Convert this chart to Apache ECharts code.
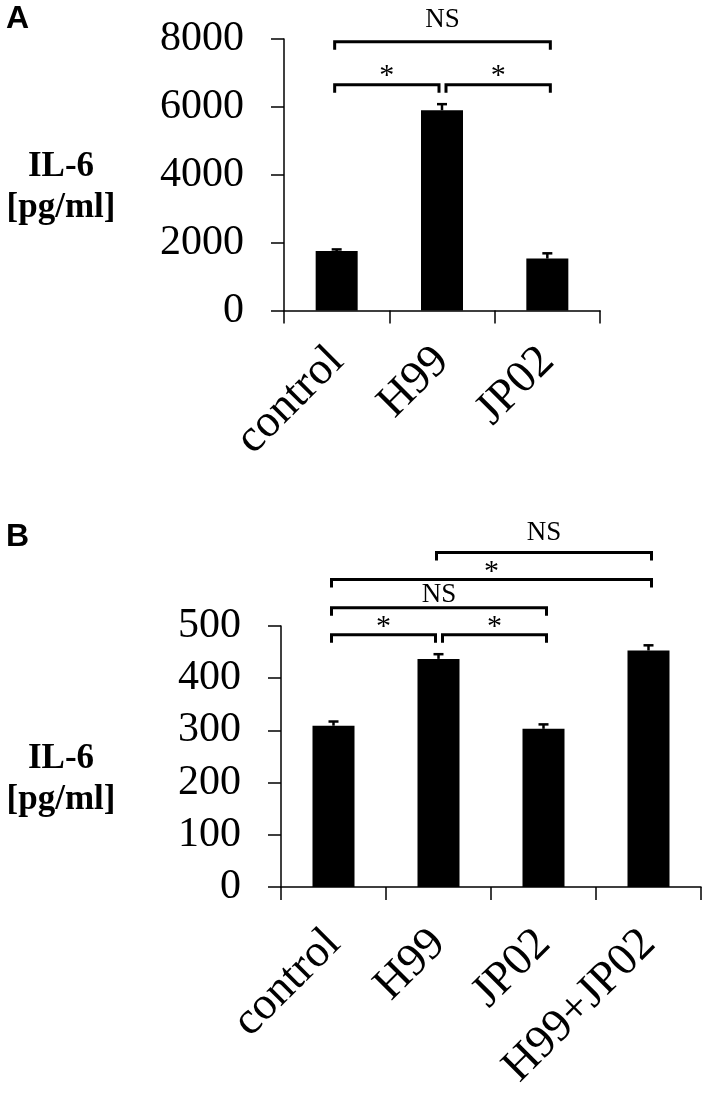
<!DOCTYPE html>
<html>
<head>
<meta charset="utf-8">
<script src="https://cdn.jsdelivr.net/npm/echarts@6/dist/echarts.min.js"></script>
<style>
html,body{margin:0;padding:0;background:#fff;}
#chart{width:708px;height:1093px;}
</style>
</head>
<body>
<div id="chart"></div>
<script>
// ---------- data ----------
const categoriesA = ['control', 'H99', 'JP02'];
const valuesA = [1750, 5900, 1530];
const errorsA = [50, 180, 155];
const yTicksA = { min: 0, max: 8000, interval: 2000 };
// [fromIndex, toIndex, level, label]
const bracketsA = [
  [0, 2, 7920, 'NS'],
  [0, 1, 6650, '*'],
  [1, 2, 6650, '*']
];

const categoriesB = ['control', 'H99', 'JP02', 'H99+JP02'];
const valuesB = [309, 437, 303, 453];
const errorsB = [8, 9, 8.5, 10];
const yTicksB = { min: 0, max: 500, interval: 100 };
const bracketsB = [
  [1, 3, 641, 'NS'],
  [0, 3, 589, '*'],
  [0, 2, 535, 'NS'],
  [0, 1, 483, '*'],
  [1, 2, 483, '*']
];

const yAxisName = 'IL-6\n[pg/ml]';

// ---------- styles (pixel gaps between bracket line and its label) ----------
const labelGapA = [22, 9, 9];
const labelGapB = [19, 7, 13, 8, 8];
const SERIF = "'Liberation Serif','Times New Roman',serif";
const BLACK = '#000';

function makeErrorRender() {
  return function (params, api) {
    const base = api.coord([api.value(0), api.value(1)]);
    const top = api.coord([api.value(0), api.value(2)]);
    const capHalf = 5;
    return {
      type: 'group',
      children: [
        { type: 'line', shape: { x1: base[0], y1: base[1], x2: top[0], y2: top[1] },
          style: { stroke: BLACK, lineWidth: 2.5 } },
        { type: 'line', shape: { x1: top[0] - capHalf, y1: top[1], x2: top[0] + capHalf, y2: top[1] },
          style: { stroke: BLACK, lineWidth: 2.5 } }
      ]
    };
  };
}

function makeBracketRender(brackets, gaps) {
  return function (params, api) {
    const b = brackets[params.dataIndex];
    const lvl = b[2];
    const leftShared = brackets.some(o => o !== b && o[2] === lvl && o[1] === b[0]);
    const rightShared = brackets.some(o => o !== b && o[2] === lvl && o[0] === b[1]);
    const p1 = api.coord([b[0], lvl]);
    const p2 = api.coord([b[1], lvl]);
    const x1 = p1[0] + (leftShared ? 4 : -2);
    const x2 = p2[0] + (rightShared ? -3 : 3);
    const y = p1[1];
    const drop = 8;
    const isStar = b[3] === '*';
    return {
      type: 'group',
      children: [
        { type: 'polyline',
          shape: { points: [[x1, y + drop], [x1, y], [x2, y], [x2, y + drop]] },
          style: { stroke: BLACK, lineWidth: 3, fill: null } },
        { type: 'text',
          style: { text: b[3], x: (x1 + x2) / 2, y: y - gaps[params.dataIndex],
                   align: 'center', verticalAlign: 'middle',
                   font: (isStar ? '30px ' : '27px ') + SERIF, fill: BLACK } }
      ]
    };
  };
}

const axisLineStyle = { show: true, lineStyle: { color: BLACK, width: 1.5 } };
const axisTickStyle = { show: true, length: 13, lineStyle: { color: BLACK, width: 1.5 } };

function xAxisCfg(gridIndex, cats, margin) {
  return {
    type: 'category', gridIndex: gridIndex, data: cats,
    boundaryGap: true,
    axisLine: axisLineStyle,
    axisTick: axisTickStyle,
    axisLabel: { rotate: 45, margin: margin, fontFamily: SERIF, fontSize: 46, color: BLACK, interval: 0 },
    splitLine: { show: false }
  };
}
function yAxisCfg(gridIndex, t) {
  return {
    type: 'value', gridIndex: gridIndex, min: t.min, max: t.max, interval: t.interval,
    axisLine: axisLineStyle,
    axisTick: axisTickStyle,
    axisLabel: { margin: 40, fontFamily: SERIF, fontSize: 42, color: BLACK,
                 formatter: v => String(v) },
    splitLine: { show: false }
  };
}

const nameFont = "bold 35px 'Liberation Serif','Times New Roman',serif";
const letterFont = "bold 32px 'Liberation Sans',Arial,sans-serif";
const chart = echarts.init(document.getElementById('chart'), null, { renderer: 'canvas' });
chart.setOption({
  backgroundColor: '#fff',
  animation: false,
  graphic: [
    { type: 'text', left: 6, top: 3, style: { text: 'A', font: letterFont, fill: BLACK } },
    { type: 'text', left: 6, top: 521, style: { text: 'B', font: letterFont, fill: BLACK } },
    { type: 'text', x: 61, y: 187, style: { text: yAxisName, font: nameFont, lineHeight: 41,
        align: 'center', verticalAlign: 'middle', fill: BLACK } },
    { type: 'text', x: 61, y: 779, style: { text: yAxisName, font: nameFont, lineHeight: 41,
        align: 'center', verticalAlign: 'middle', fill: BLACK } }
  ],
  grid: [
    { left: 284, top: 39, width: 316, height: 271.5 },
    { left: 281, top: 626, width: 420, height: 261 }
  ],
  xAxis: [xAxisCfg(0, categoriesA, 44), xAxisCfg(1, categoriesB, 50)],
  yAxis: [yAxisCfg(0, yTicksA), yAxisCfg(1, yTicksB)],
  series: [
    { type: 'bar', xAxisIndex: 0, yAxisIndex: 0, data: valuesA, barWidth: 42,
      itemStyle: { color: BLACK } },
    { type: 'custom', xAxisIndex: 0, yAxisIndex: 0, z: 5,
      data: valuesA.map((v, i) => [i, v, v + errorsA[i]]),
      renderItem: makeErrorRender() },
    { type: 'custom', xAxisIndex: 0, yAxisIndex: 0, z: 6, clip: false,
      data: bracketsA.map(b => [b[0], b[2]]),
      renderItem: makeBracketRender(bracketsA, labelGapA) },
    { type: 'bar', xAxisIndex: 1, yAxisIndex: 1, data: valuesB, barWidth: 42,
      itemStyle: { color: BLACK } },
    { type: 'custom', xAxisIndex: 1, yAxisIndex: 1, z: 5,
      data: valuesB.map((v, i) => [i, v, v + errorsB[i]]),
      renderItem: makeErrorRender() },
    { type: 'custom', xAxisIndex: 1, yAxisIndex: 1, z: 6, clip: false,
      data: bracketsB.map(b => [b[0], b[2]]),
      renderItem: makeBracketRender(bracketsB, labelGapB) }
  ]
});
</script>
</body>
</html>
